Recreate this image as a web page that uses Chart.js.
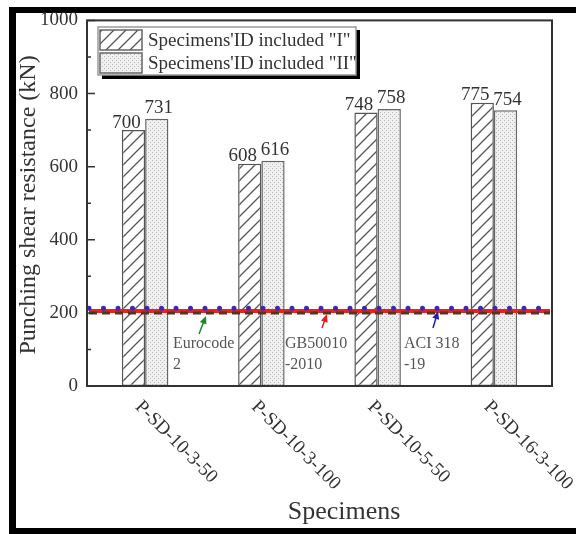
<!DOCTYPE html>
<html>
<head>
<meta charset="utf-8">
<script src="https://cdn.jsdelivr.net/npm/chart.js@4.4.1/dist/chart.umd.min.js"></script>
<style>
  body { margin: 0; background: #fff; }
  #wrap { width: 576px; height: 534px; }
</style>
</head>
<body>
<div id="wrap"><canvas id="myChart" width="576" height="534"></canvas></div>
<script>
let specimens = ["P-SD-10-3-50", "P-SD-10-3-100", "P-SD-10-5-50", "P-SD-16-3-100"];
let seriesNames = ['Specimens\'ID included "I"', 'Specimens\'ID included "II"'];
let valuesI = [700, 608, 748, 775];
let valuesII = [731, 616, 758, 754];

let codeNames = ["Eurocode 2", "GB50010-2010", "ACI 318-19"];
let codeValues = [200, 205, 213];
let codeLabels = [["Eurocode", "2"], ["GB50010", "-2010"], ["ACI 318", "-19"]];

let yMajor = [0, 200, 400, 600, 800, 1000];
let yMinor = [100, 300, 500, 700, 900];

const SERIF = "'Liberation Serif', 'Times New Roman', serif";

function hatchPattern() {
  let c = document.createElement("canvas");
  c.width = 12;
  c.height = 12;
  let g = c.getContext("2d");
  g.fillStyle = "#fff";
  g.fillRect(0, 0, 12, 12);
  g.strokeStyle = "#555";
  g.lineWidth = 1.3;
  g.beginPath();
  g.moveTo(0, 12); g.lineTo(12, 0);
  g.moveTo(-4, 4); g.lineTo(4, -4);
  g.moveTo(8, 16); g.lineTo(16, 8);
  g.stroke();
  return g.createPattern(c, "repeat");
}

function dotPattern() {
  let c = document.createElement("canvas");
  c.width = 4;
  c.height = 4;
  let g = c.getContext("2d");
  g.fillStyle = "#f0f0f0";
  g.fillRect(0, 0, 4, 4);
  g.fillStyle = "#b8b8b8";
  g.fillRect(0, 0, 1, 1);
  g.fillRect(2, 2, 1, 1);
  return g.createPattern(c, "repeat");
}

let hatch = hatchPattern();
let dots = dotPattern();

// line styles for the three design codes, same order as codeNames
let codeStyle = [
  { color: "#5a3220", width: 3, dash: [8, 5], cap: "butt" },
  { color: "#e8231f", width: 4, dash: [], cap: "butt" },
  { color: "#3a2ab0", width: 5, dash: [0, 14.5], cap: "round" },
];
let drawOrder = [1, 0, 2];

// annotation text boxes and arrow tails (pixels)
let annoStyle = [
  { x: 173, y: 344, tail: [199, 334], tipX: 206, color: "#1d8a2a" },
  { x: 285, y: 344, tail: [322, 328], tipX: 327, color: "#e02020" },
  { x: 404, y: 344, tail: [433, 328], tipX: 438, color: "#2020c0" },
];

function arrow(ctx, x0, y0, x1, y1, color) {
  let a = Math.atan2(y1 - y0, x1 - x0);
  ctx.save();
  ctx.strokeStyle = color;
  ctx.fillStyle = color;
  ctx.lineWidth = 1.5;
  ctx.beginPath();
  ctx.moveTo(x0, y0);
  ctx.lineTo(x1 - 4 * Math.cos(a), y1 - 4 * Math.sin(a));
  ctx.stroke();
  ctx.beginPath();
  ctx.moveTo(x1, y1);
  ctx.lineTo(x1 - 8 * Math.cos(a) + 3.5 * Math.sin(a), y1 - 8 * Math.sin(a) - 3.5 * Math.cos(a));
  ctx.lineTo(x1 - 8 * Math.cos(a) - 3.5 * Math.sin(a), y1 - 8 * Math.sin(a) + 3.5 * Math.cos(a));
  ctx.closePath();
  ctx.fill();
  ctx.restore();
}

const decor = {
  id: "decor",
  beforeDraw(chart) {
    let ctx = chart.ctx;
    ctx.save();
    ctx.fillStyle = "#fff";
    ctx.fillRect(0, 0, chart.width, chart.height);
    ctx.fillStyle = "#000";
    ctx.fillRect(9, 7, 7, 527);
    ctx.fillRect(9, 7, 567, 6);
    ctx.fillRect(9, 528, 567, 6);
    ctx.restore();
  },
  afterDatasetsDraw(chart) {
    // horizontal design-code lines across the plot
    let ctx = chart.ctx;
    let area = chart.chartArea;
    let y = chart.scales.y;
    ctx.save();
    drawOrder.forEach((i) => {
      let s = codeStyle[i];
      let py = y.getPixelForValue(codeValues[i]);
      ctx.strokeStyle = s.color;
      ctx.lineWidth = s.width;
      ctx.lineCap = s.cap;
      ctx.setLineDash(s.dash);
      ctx.beginPath();
      ctx.moveTo(area.left + 2, py);
      ctx.lineTo(area.right - 2, py);
      ctx.stroke();
    });
    ctx.restore();
  },
  afterDraw(chart) {
    let ctx = chart.ctx;
    let area = chart.chartArea;
    let y = chart.scales.y;
    let x = chart.scales.x;
    ctx.save();

    // frame
    ctx.strokeStyle = "#333";
    ctx.lineWidth = 2;
    ctx.strokeRect(area.left, area.top, area.right - area.left, area.bottom - area.top);

    // inward ticks
    ctx.lineWidth = 1.5;
    ctx.beginPath();
    yMajor.forEach((v) => {
      let py = y.getPixelForValue(v);
      ctx.moveTo(area.left, py);
      ctx.lineTo(area.left + 8, py);
    });
    yMinor.forEach((v) => {
      let py = y.getPixelForValue(v);
      ctx.moveTo(area.left, py);
      ctx.lineTo(area.left + 4, py);
    });
    ctx.stroke();

    // value labels
    ctx.fillStyle = "#333";
    ctx.font = "19px " + SERIF;
    ctx.textAlign = "center";
    ctx.textBaseline = "bottom";
    [0, 1].forEach((di) => {
      let meta = chart.getDatasetMeta(di);
      let shift = di === 0 ? -7 : 2;
      meta.data.forEach((bar, i) => {
        let v = chart.data.datasets[di].data[i];
        ctx.fillText(String(v), bar.x + shift, bar.y + (di === 0 ? 2 : -1));
      });
    });

    // rotated category labels
    ctx.textAlign = "left";
    ctx.textBaseline = "middle";
    specimens.forEach((name, i) => {
      let px = x.getPixelForValue(i);
      ctx.save();
      ctx.translate(px - 7, area.bottom + 18);
      ctx.rotate(Math.PI / 4);
      ctx.fillText(name, 0, 0);
      ctx.restore();
    });

    // axis titles
    ctx.font = "26px " + SERIF;
    ctx.textAlign = "center";
    ctx.textBaseline = "middle";
    ctx.fillText("Specimens", 344, 512);
    ctx.save();
    ctx.translate(29, 205);
    ctx.rotate(-Math.PI / 2);
    ctx.font = "24px " + SERIF;
    ctx.fillText("Punching shear resistance (kN)", 0, 0);
    ctx.restore();

    // legend
    ctx.fillStyle = "#000";
    ctx.fillRect(102, 75, 258, 4);
    ctx.fillRect(356, 30, 4, 49);
    ctx.fillStyle = "#fff";
    ctx.fillRect(98, 27, 258, 48);
    ctx.strokeStyle = "#999";
    ctx.lineWidth = 1.5;
    ctx.strokeRect(98, 27, 258, 48);
    let swatches = [hatch, dots];
    seriesNames.forEach((name, i) => {
      let top = 30 + i * 23;
      ctx.fillStyle = swatches[i];
      ctx.fillRect(100, top, 42, 20);
      ctx.strokeStyle = "#666";
      ctx.lineWidth = 1.5;
      ctx.strokeRect(100, top, 42, 20);
      ctx.fillStyle = "#333";
      ctx.font = "19px " + SERIF;
      ctx.textAlign = "left";
      ctx.textBaseline = "middle";
      ctx.fillText(name, 148, top + 11);
    });

    // code annotations
    codeLabels.forEach((lines, i) => {
      let s = annoStyle[i];
      ctx.fillStyle = "#555";
      ctx.font = "16px " + SERIF;
      ctx.textAlign = "left";
      ctx.textBaseline = "middle";
      lines.forEach((t, k) => ctx.fillText(t, s.x, s.y + k * 21));
      arrow(ctx, s.tail[0], s.tail[1], s.tipX, y.getPixelForValue(codeValues[i]) + 3, s.color);
    });

    ctx.restore();
  },
};

const ctx = document.getElementById("myChart");

new Chart(ctx, {
  type: "bar",
  data: {
    labels: specimens,
    datasets: [
      {
        label: seriesNames[0],
        data: valuesI,
        backgroundColor: hatch,
        borderColor: "#555",
        borderWidth: 1.5,
        borderSkipped: false,
      },
      {
        label: seriesNames[1],
        data: valuesII,
        backgroundColor: dots,
        borderColor: "#666",
        borderWidth: 1.5,
        borderSkipped: false,
      },
    ],
  },
  options: {
    responsive: false,
    animation: false,
    layout: {
      padding: { top: 20, right: 24, left: 0, bottom: 0 },
    },
    datasets: {
      bar: { barPercentage: 1, categoryPercentage: 0.4 },
    },
    plugins: {
      legend: { display: false },
      tooltip: { enabled: false },
    },
    scales: {
      x: {
        grid: { display: false, drawTicks: false },
        border: { display: false },
        ticks: { display: false },
        afterFit(scale) {
          scale.height = 148;
        },
      },
      y: {
        min: 0,
        max: 1000,
        grid: { display: false, drawTicks: false },
        border: { display: false },
        ticks: {
          stepSize: 200,
          padding: 9,
          color: "#333",
          font: { family: SERIF, size: 19 },
          callback: (v) => String(v),
        },
        afterFit(scale) {
          scale.width = 87;
        },
      },
    },
  },
  plugins: [decor],
});
</script>
</body>
</html>
